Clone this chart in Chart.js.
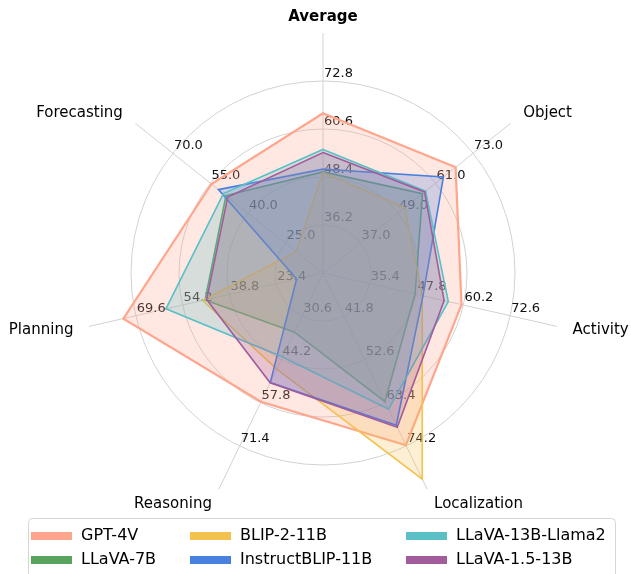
<!DOCTYPE html>
<html><head><meta charset="utf-8">
<script src="https://cdn.jsdelivr.net/npm/chart.js@4/dist/chart.umd.min.js"></script>
<style>html,body{margin:0;padding:0;background:#fff}#wrap{width:631px;height:574px;position:relative}</style>
</head><body><div id="wrap"><canvas id="c"></canvas></div>
<script>
// Axes (clockwise from top) and their individual value ranges
const axes = ['Average', 'Object', 'Activity', 'Localization', 'Reasoning', 'Planning', 'Forecasting'];
const axisMin = [24.0, 25.0, 23.0, 31.0, 17.0, 8.0, 10.0];
const axisMax = [85.0, 85.0, 85.0, 85.0, 85.0, 85.0, 85.0];
// Tick labels per axis (at 20%, 40%, 60%, 80% of each range)
const tickAverage = ['36.2', '48.4', '60.6', '72.8'];
const tickObject = ['37.0', '49.0', '61.0', '73.0'];
const tickActivity = ['35.4', '47.8', '60.2', '72.6'];
const tickLocalization = ['41.8', '52.6', '63.4', '74.2'];
const tickReasoning = ['30.6', '44.2', '57.8', '71.4'];
const tickPlanning = ['23.4', '38.8', '54.2', '69.6'];
const tickForecasting = ['25.0', '40.0', '55.0', '70.0'];
const tickLabels = [tickAverage, tickObject, tickActivity, tickLocalization, tickReasoning, tickPlanning, tickForecasting];

// Series values (Average, Object, Activity, Localization, Reasoning, Planning, Forecasting)
const models = ['GPT-4V', 'LLaVA-7B', 'BLIP-2-11B', 'InstructBLIP-11B', 'LLaVA-13B-Llama2', 'LLaVA-1.5-13B'];
const gpt4v = [64.6, 67.4, 59.7, 74.0, 57.5, 73.7, 54.6];
const llava7b = [49.7, 56.8, 47.4, 63.1, 35.6, 46.8, 48.8];
const blip2 = [49.5, 51.2, 49.3, 82.5, 47.2, 47.6, 20.7];
const instructblip = [50.4, 63.5, 49.5, 69.0, 51.4, 16.7, 51.8];
const llava13bLlama2 = [55.4, 57.8, 56.2, 65.0, 43.4, 59.7, 49.8];
const llava15 = [54.6, 57.5, 55.1, 69.5, 51.5, 46.3, 48.1];
const series = [gpt4v, llava7b, blip2, instructblip, llava13bLlama2, llava15];
const colors = ['#FFA58C', '#58A35C', '#F2C14E', '#4A80DD', '#5BBFC6', '#A25C9C'];

function hexA(h, a) {
  const r = parseInt(h.slice(1, 3), 16), g = parseInt(h.slice(3, 5), 16), b = parseInt(h.slice(5, 7), 16);
  return `rgba(${r},${g},${b},${a})`;
}
const norm = vals => vals.map((v, i) => (v - axisMin[i]) / (axisMax[i] - axisMin[i]));

const datasets = series.map((vals, k) => ({
  label: models[k],
  data: norm(vals),
  borderColor: colors[k],
  backgroundColor: hexA(colors[k], 0.25),
  borderWidth: k === 0 ? 2.2 : 1.6,
  fill: true,
  pointRadius: 0,
  tension: 0,
  order: series.length - k
}));

const FONT = '"DejaVu Sans", "Liberation Sans", sans-serif';

const overlay = {
  id: 'overlay',
  beforeDatasetsDraw(chart) {
    const s = chart.scales.r, ctx = chart.ctx;
    ctx.save();
    ctx.font = '13px ' + FONT;
    ctx.fillStyle = '#111';
    ctx.textAlign = 'left';
    ctx.textBaseline = 'bottom';
    tickLabels.forEach((labels, i) => {
      labels.forEach((t, j) => {
        const p = s.getPointPositionForValue(i, (j + 1) * 0.2);
        ctx.fillText(t, p.x + 1, p.y - 1);
      });
    });
    ctx.restore();
  },
  afterDraw(chart) {
    const s = chart.scales.r, ctx = chart.ctx;
    ctx.save();
    ctx.fillStyle = '#000';
    ctx.textBaseline = 'middle';
    axes.forEach((a, i) => {
      const p = s.getPointPosition(i, s.drawingArea + 16);
      const sx = Math.sin(i * 2 * Math.PI / axes.length);
      ctx.textAlign = Math.abs(sx) < 0.01 ? 'center' : (sx > 0 ? 'left' : 'right');
      ctx.font = (i === 0 ? 'bold ' : '') + '15px ' + FONT;
      ctx.fillText(a, p.x, p.y);
    });
    // legend
    const bx = 28.5, by = 518.5, bw = 587, bh = 70, r = 4;
    ctx.beginPath();
    ctx.moveTo(bx + r, by);
    ctx.lineTo(bx + bw - r, by);
    ctx.quadraticCurveTo(bx + bw, by, bx + bw, by + r);
    ctx.lineTo(bx + bw, by + bh);
    ctx.lineTo(bx, by + bh);
    ctx.lineTo(bx, by + r);
    ctx.quadraticCurveTo(bx, by, bx + r, by);
    ctx.closePath();
    ctx.fillStyle = 'rgba(255,255,255,0.85)';
    ctx.fill();
    ctx.strokeStyle = '#d6d6d6';
    ctx.lineWidth = 1;
    ctx.stroke();
    const colX = [31, 190, 406];
    const rowY = [536, 560];
    ctx.font = '16px ' + FONT;
    ctx.textAlign = 'left';
    models.forEach((m, k) => {
      const col = Math.floor(k / 2), row = k % 2;
      const x = colX[col], y = rowY[row];
      ctx.fillStyle = colors[k];
      ctx.fillRect(x, y - 4, 41, 8);
      ctx.fillStyle = '#000';
      ctx.fillText(m, x + 50, y);
    });
    ctx.restore();
  }
};

new Chart(document.getElementById('c'), {
  type: 'radar',
  data: { labels: axes, datasets },
  options: {
    responsive: true,
    maintainAspectRatio: false,
    animation: false,
    layout: { padding: { left: 83, right: 68, top: 33, bottom: 61 } },
    plugins: { legend: { display: false }, tooltip: { enabled: false } },
    elements: { line: { tension: 0 } },
    scales: {
      r: {
        min: 0, max: 1,
        ticks: { display: false, stepSize: 0.2 },
        pointLabels: { display: false },
        grid: {
          circular: true,
          color: ctx => (ctx.tick && ctx.tick.value >= 0.999) ? 'rgba(0,0,0,0)' : '#d2d2d2',
          lineWidth: 1
        },
        angleLines: { color: '#d2d2d2', lineWidth: 1 }
      }
    }
  },
  plugins: [overlay]
});
</script>
</body></html>
